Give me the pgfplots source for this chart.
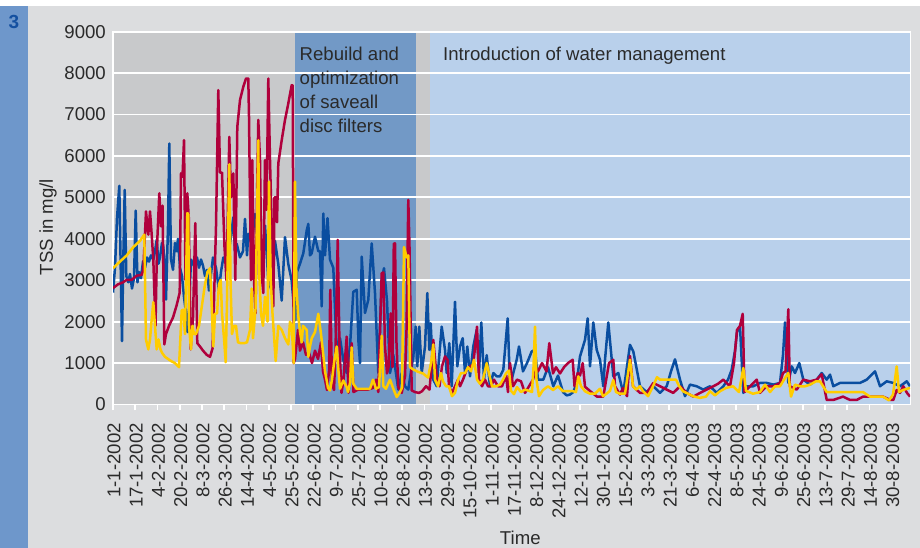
\documentclass[border=0pt]{standalone}
\usepackage{fontspec}
\setmainfont{Liberation Sans}
\usepackage{pgfplots}
\pgfplotsset{compat=1.18}
\definecolor{cblue}{HTML}{0A4EA0}
\definecolor{cred}{HTML}{B0003C}
\definecolor{cyel}{HTML}{FFCC00}
\definecolor{bgout}{HTML}{DCDDDF}
\definecolor{strip}{HTML}{6E97CB}
\definecolor{plotgray}{HTML}{C8C9CB}
\definecolor{darkreg}{HTML}{7299C6}
\definecolor{lightreg}{HTML}{B9D0EB}
\definecolor{numblue}{HTML}{1450A0}
\definecolor{txt}{HTML}{2A2A2A}
\newcommand{\lblfont}{\fontsize{18.6}{22}\selectfont}
\begin{document}
\begin{tikzpicture}
\useasboundingbox (0pt,0pt) rectangle (920pt,548pt);
\fill[bgout] (0pt,0pt) rectangle (920pt,548pt);
\fill[white] (0pt,542pt) rectangle (920pt,548pt);
\fill[strip] (0pt,0pt) rectangle (28pt,542pt);
\node[font=\bfseries\fontsize{19}{19}\selectfont, text=numblue] at (14pt,526pt) {3};
\begin{axis}[
  scale only axis, width=797pt, height=372.8pt,
  at={(113pt,143.5pt)}, anchor=south west,
  xmin=0, xmax=797, ymin=0, ymax=9000,
  axis background/.style={fill=plotgray},
  axis line style={white, line width=1.8pt},
  tick pos=left, tick align=outside, major tick length=6pt,
  ytick={0,1000,2000,3000,4000,5000,6000,7000,8000,9000},
  yticklabels={0,1000,2000,3000,4000,5000,6000,7000,8000,9000},
  ytick style={draw=none},
  xtick style={white, line width=1.6pt},
  xtick={0,22.25,44.5,66.75,89,111.25,133.5,155.75,178,200.25,222.5,244.75,267,289.25,311.5,333.75,356,378.25,400.5,422.75,445,467.25,489.5,511.75,534,556.25,578.5,600.75,623,645.25,667.5,689.75,712,734.25,756.5,778.75},
  xticklabels={1-1-2002,17-1-2002,4-2-2002,20-2-2002,8-3-2002,26-3-2002,14-4-2002,4-5-2002,25-5-2002,22-6-2002,9-7-2002,25-7-2002,10-8-2002,26-8-2002,13-9-2002,29-9-2002,15-10-2002,1-11-2002,17-11-2002,8-12-2002,24-12-2002,12-1-2003,30-1-2003,15-2-2003,3-3-2003,21-3-2003,6-4-2003,22-4-2003,8-5-2003,24-5-2003,9-6-2003,25-6-2003,13-7-2003,29-7-2003,14-8-2003,30-8-2003},
  xticklabel style={rotate=90, anchor=east, font=\lblfont, text=txt, inner sep=0pt, xshift=-12.5pt, yshift=-1pt},
  yticklabel style={font=\lblfont, text=txt, inner sep=0pt, xshift=-1pt},
  ylabel={TSS in mg/l}, ylabel style={font=\lblfont, text=txt, at={(axis description cs:-0.0816,0.476)}, anchor=center},
  xlabel={Time}, xlabel style={font=\lblfont, text=txt, at={(axis description cs:0.511,-0.358)}, anchor=center},
  every axis plot/.append style={line width=2.5pt, line join=round, mark=none},
]
\fill[darkreg] (axis cs:182,0) rectangle (axis cs:303,9000);
\fill[lightreg] (axis cs:317,0) rectangle (axis cs:797,9000);
\foreach \g in {1000,2000,...,9000} {
  \edef\temp{\noexpand\draw[white, line width=1.8pt] (axis cs:0,\g) -- (axis cs:797,\g);}
  \temp
}
% blue series
\addplot[cblue] coordinates {
(0,2700)(2,3300)(4,4500)(6.3,5280)(7.5,3600)(9,1530)(10.3,3500)(11.7,5180)(13.3,3100)(15.3,2950)
(17,3150)(19,2800)(21,3050)(22.7,4680)(24.5,2950)(26,3200)(28,3050)(30,3450)(32,3300)(34,3550)
(36,3450)(38,3600)(40.3,3500)(42,3700)(43.7,3975)(45.5,3400)(47,3550)(49,3900)(50.3,3800)(52,3300)
(53,2530)(55,4300)(56.3,6300)(58,3500)(60,3250)(62,3900)(63.7,3700)(65,4000)(67,3300)(69,3100)
(71,2600)(73,2200)(74.5,1750)(76,2300)(78,3500)(80,3400)(82,3300)(84,3550)(86,3300)(88,3500)
(90,3350)(92,3100)(94,3250)(96,2750)(98,3150)(100,3550)(103,3300)(106,2750)(108,3200)(110.3,3550)
(113.7,3400)(117,3880)(120.3,4520)(122,3700)(123.7,3880)(127,3550)(130,3700)(132,4480)(134,3600)(135.3,4120)
(138.7,3880)(142,4600)(145.3,3880)(148.7,3310)(152,4320)(155.3,2990)(158.7,2750)(162,3950)(165.3,3390)(168.7,2510)
(172,4040)(175.3,3390)(178.7,2990)(182,2030)(184,3200)(187,3400)(190.3,3650)(193.7,4200)(195.3,4360)(197,3600)
(198.7,3650)(202,4050)(205.3,3700)(207,3700)(208.7,2370)(210.3,4610)(212,3600)(214.5,4500)(217,3500)(220.3,3300)
(223.7,1330)(227,1600)(230.3,1080)(233.7,760)(237,1400)(240.3,2720)(243.7,2770)(245.5,1500)(247,1000)(248.7,3570)
(252,2210)(255.3,2530)(258.7,3890)(262,2690)(265.3,760)(268.7,3010)(271,3290)(274,2500)(275.3,1720)(277,760)
(280.3,1200)(285.3,360)(288.7,760)(292,440)(295.3,360)(298.7,920)(300.3,1160)(302.7,1880)(304.3,920)(306.3,1880)
(308.7,760)(312,1400)(314.3,2690)(316.3,1320)(317.7,1960)(320.3,600)(323.7,440)(328.7,1880)(332,1320)(333.7,760)
(336.3,1480)(338.7,440)(342,2480)(344.3,920)(347,1400)(349.7,1600)(352,760)(354.3,1400)(357,680)(360.3,1400)
(363.7,1800)(366,760)(368.3,1980)(371,600)(373.7,1190)(377,440)(380.3,760)(383.7,680)(387,680)(390.3,840)
(394.7,2080)(397,440)(400.3,760)(403.7,1080)(406,1400)(410,800)(414,1000)(418.7,1280)(422,1320)(425,600)
(430.3,600)(435,900)(440.3,440)(445,700)(450,300)(453.7,220)(457,240)(460.3,300)(463.7,520)(467,1160)
(472,1560)(474.7,2080)(477,920)(480.3,1980)(483.7,1320)(487,1080)(490.3,440)(492,1080)(495.3,1980)(500.3,680)
(505.3,760)(510.3,280)(517,1440)(520.3,1280)(527,440)(533.7,300)(540.3,440)(547,280)(553.7,440)(558,800)
(562,1090)(567,600)(572,200)(577,480)(583.7,440)(590.3,360)(597,440)(603.7,280)(610.3,440)(615,600)
(618.7,840)(622,1300)(624,1750)(627,1880)(630.3,280)(633.7,440)(640.3,440)(647,520)(653.7,520)(660.3,480)
(667,520)(670,1200)(672,1980)(675.3,520)(678.7,920)(682,760)(686.3,1000)(690.3,600)(697,480)(703.7,600)
(708.7,760)(713.7,600)(717,720)(720.3,440)(727,520)(733.7,520)(740.3,520)(747,520)(753.7,600)(762,800)
(767,440)(773.7,560)(780.3,520)(787,440)(793.7,560)(797,440)
};
% red series
\addplot[cred] coordinates {
(0,2810)(5,2900)(10,2950)(13.7,3010)(18.7,3010)(23.7,3110)(28.7,3130)(30.3,3250)(33,4660)(35.3,4100)
(37,4660)(38.7,4100)(40.3,3500)(42.5,1900)(44,3800)(46.3,5100)(48,4300)(49.5,4800)(51.3,1450)(53,1700)
(56,1900)(60,2100)(63.7,2400)(66.7,2700)(68,5580)(69.5,5500)(71,6380)(72.5,3000)(74.3,5100)(75.8,4500)
(77.7,1330)(80,2100)(82.3,4380)(84.3,1480)(87,1400)(90,1300)(93.7,1200)(97,1150)(99.5,1350)(101,2500)
(103,4300)(105.3,7590)(107,5600)(109,5600)(111.5,3800)(113.5,3000)(116.3,6460)(118,5000)(120.3,5580)(122.3,3010)
(124.3,6700)(127,7350)(130.3,7670)(133,7870)(135.3,7870)(136,6950)(138,3000)(139.3,5900)(141,3000)(142.5,2200)
(144,5000)(145.3,6870)(147,5900)(148.5,3200)(150.3,2690)(152,5900)(153.5,4700)(155.3,7870)(157,5900)(158.5,4500)
(160.3,2370)(161.5,5000)(163,5000)(164,4400)(165.3,5820)(168.7,6380)(172,6870)(175.3,7270)(178.7,7710)(179.7,7700)
(180.7,1000)(182,1100)(185,1800)(187,1300)(190,1500)(193,1200)(196,1250)(199,1000)(202,1300)(205,1100)
(208,1500)(210,800)(212,600)(214,350)(216,800)(217.3,2770)(219,500)(221,350)(222.5,1300)(224.7,3975)
(226.5,1400)(228.5,280)(230.5,600)(233.7,1640)(235.5,280)(238.7,1480)(240.5,300)(245,360)(250,360)(255,360)
(260,400)(263,600)(265.3,300)(268.7,3170)(270.3,3190)(272,1400)(274,750)(275.5,900)(277.7,2200)(279.5,900)
(280.8,3880)(282,3890)(283.5,1480)(285.3,420)(288.7,280)(292,680)(293.5,1800)(295.3,4940)(296.5,3800)(298.7,340)
(302,300)(306,280)(309,320)(313,440)(316.5,360)(318.5,900)(320.3,1560)(322,1100)(324,600)(326.5,440)
(329,920)(332,1160)(334.5,1080)(336,440)(339,280)(342,440)(345,600)(347,440)(350,600)(353.7,840)
(357,920)(360.3,960)(362.5,1500)(364,1880)(366,600)(369,440)(372,600)(375,440)(378,440)(381,600)
(385,440)(389,440)(393,700)(395,300)(397,1000)(400,440)(404,600)(408,560)(412,280)(416,440)
(420,600)(423,880)(425,800)(429,1000)(433.5,800)(436.3,1480)(440,750)(443,900)(447,750)(451,900)
(455,1000)(459.7,1080)(461.5,440)(464.7,760)(467,700)(469.7,1000)(472,430)(477.3,320)(484,190)(490.3,190)
(496,1000)(500.3,1080)(502,440)(507,240)(510,400)(514,200)(517,1170)(520,440)(527,280)(533.7,280)
(540.3,520)(547,440)(553.7,360)(560.3,280)(567,440)(573.7,280)(580.3,190)(587,280)(593.7,360)(600.3,440)
(605,500)(610.3,600)(617,440)(621,1000)(624,1800)(627,1900)(629.7,2190)(631.5,300)(637,440)(643.7,600)
(647,280)(653.7,440)(660.3,440)(667,520)(670,760)(672.5,800)(675.3,2300)(676.8,440)(683.7,360)(690.3,600)
(697,560)(703.7,600)(708.7,730)(713.7,110)(717,110)(720.3,110)(730,190)(737,110)(743.7,110)(750,190)
(757,190)(763.7,190)(770,190)(777.3,110)(780.3,110)(783.7,350)(787,280)(790.3,440)(794,280)(797,190)
};
% yellow series
\addplot[cyel] coordinates {
(0,3290)(7,3450)(13.7,3600)(20.3,3800)(27,3950)(31.3,4100)(33,1570)(35.3,1330)(37,1570)(38.5,2000)
(40.3,2470)(42,1900)(43.7,1330)(45.5,1570)(47.5,1330)(49,1250)(52,1150)(55,1100)(58,1050)(62,1000)
(64,950)(66,900)(68.7,2270)(70.3,2290)(72,1700)(74.3,4620)(75.3,4600)(76,1900)(78,1330)(79.5,1900)
(81,1700)(83,1700)(86,1900)(89,2400)(92,2900)(94.5,3200)(97,3290)(98.5,2500)(100.3,1400)(102,2190)
(104,2200)(106,2900)(107.7,3010)(109,2200)(111,1600)(112.7,1020)(114,2500)(116.3,5800)(117.5,3000)(119,1700)
(121,1900)(123,1900)(125,1500)(128,1480)(131,1480)(134,1500)(137,1800)(138.7,2800)(140,1600)(142.5,2300)
(145.3,6380)(146.5,3000)(148,2200)(150,1900)(152,2600)(154.5,2000)(156,5380)(157.7,3000)(159.5,2200)(162.7,1050)
(165.3,1900)(168.7,1800)(172,1600)(175.3,1450)(177,2000)(178.7,1900)(180.7,1000)(182,5380)(183.5,2800)(185,2200)
(187,1750)(188.7,1500)(190,1900)(193.7,1800)(195.3,1150)(197,1400)(198.7,1600)(202,1750)(205.3,2190)(208,1700)
(210.3,1200)(212,800)(213.7,580)(215,400)(217,340)(219,600)(221,1000)(223.7,1400)(225.5,800)(227,380)
(230.3,580)(233.7,420)(235,300)(237,520)(238.7,1380)(240.3,500)(243.7,380)(247,380)(252,380)(257,380)
(260,600)(263,380)(266,420)(268.7,1660)(270.3,440)(273,380)(277,600)(280.3,380)(283.7,180)(286,260)
(289,400)(291,3800)(293.7,3550)(295.3,3600)(297,900)(300,850)(305,790)(310,750)(315,650)(318,1000)
(320.3,1450)(322,600)(325,440)(328,760)(330,560)(333,440)(336,440)(339,200)(342,280)(345,600)
(348,760)(352,760)(355,900)(358,800)(361,1080)(364,600)(367,500)(370,600)(373.7,1000)(376,750)
(379,440)(383,440)(387,480)(390,600)(393,750)(396,820)(398,330)(401,250)(404,420)(408,300)
(412,360)(416,330)(419,300)(420.5,900)(422,1880)(423.5,600)(426,200)(430,350)(435,440)(440,350)
(445,440)(450,320)(455,320)(460,320)(463,300)(465.3,680)(468,440)(472,320)(477,260)(482,260)
(487,380)(490,200)(493,250)(497,330)(500.3,590)(503,300)(507,260)(512,260)(517,1080)(520,440)
(523,360)(527,440)(530,320)(535,200)(540,440)(544,660)(547,600)(553,600)(558,600)(563,600)
(566,450)(570,320)(575,260)(580,200)(587,160)(593,190)(597,320)(602,220)(607,320)(613,400)
(620,440)(626,300)(630.3,880)(633,330)(640,260)(647,300)(652,480)(657,300)(662,440)(667,440)
(671,600)(675.3,760)(678,190)(682,480)(687,440)(692,440)(697,480)(703,560)(707,560)(713.7,300)
(720,300)(730,300)(740,300)(750,300)(757,190)(763,190)(770,190)(776,100)(780,240)(783.7,920)
(786,300)(790,350)(797,400)
};
\end{axis}
\begin{scope}[font=\lblfont, text=txt]
\node[anchor=base west, inner sep=0pt] at (299.5pt,487pt) {Rebuild and};
\node[anchor=base west, inner sep=0pt] at (299.5pt,463pt) {optimization};
\node[anchor=base west, inner sep=0pt] at (299.5pt,439pt) {of saveall};
\node[anchor=base west, inner sep=0pt] at (299.5pt,415pt) {disc filters};
\node[anchor=base west, inner sep=0pt] at (443pt,487pt) {Introduction of water management};
\end{scope}
\end{tikzpicture}
\end{document}
